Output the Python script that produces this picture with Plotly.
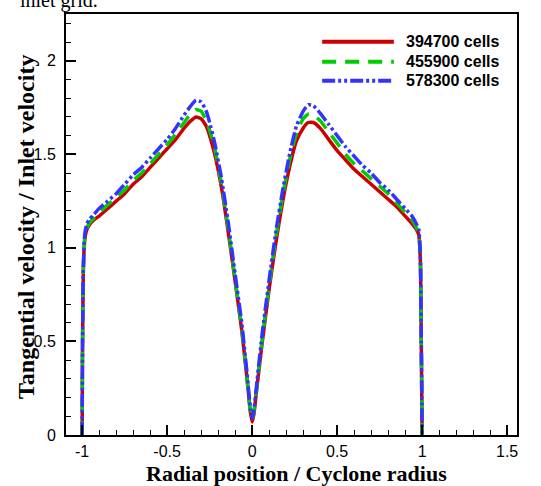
import plotly.graph_objects as go

# Digitised radial positions (shared by the three meshes)
x_pos = [-1.0, -0.998, -0.993, -0.985, -0.975, -0.96, -0.93, -0.9, -0.85, -0.8,
         -0.75, -0.7, -0.65, -0.6, -0.55, -0.5, -0.45, -0.4, -0.36, -0.33,
         -0.3, -0.27, -0.25, -0.22, -0.18, -0.14, -0.1, -0.06, -0.03, -0.01,
         0.0, 0.01, 0.03, 0.06, 0.1, 0.14, 0.18, 0.22, 0.26, 0.3,
         0.33, 0.36, 0.4, 0.45, 0.5, 0.55, 0.6, 0.65, 0.7, 0.75,
         0.8, 0.85, 0.9, 0.94, 0.965, 0.98, 0.99, 0.995, 1.0]

v_394700 = [0.0, 0.45, 0.88, 1.04, 1.09, 1.12, 1.15, 1.17, 1.21, 1.25,
            1.29, 1.34, 1.38, 1.43, 1.48, 1.53, 1.58, 1.64, 1.68, 1.70,
            1.69, 1.65, 1.60, 1.50, 1.32, 1.08, 0.82, 0.55, 0.30, 0.12,
            0.07, 0.11, 0.27, 0.50, 0.78, 1.03, 1.25, 1.43, 1.57, 1.64,
            1.67, 1.67, 1.64, 1.58, 1.52, 1.47, 1.42, 1.38, 1.34, 1.30,
            1.26, 1.22, 1.17, 1.13, 1.10, 1.07, 0.92, 0.5, 0.0]

v_455900 = [0.0, 0.45, 0.88, 1.05, 1.10, 1.13, 1.16, 1.19, 1.23, 1.27,
            1.31, 1.36, 1.40, 1.45, 1.50, 1.55, 1.61, 1.67, 1.72, 1.74,
            1.73, 1.68, 1.63, 1.53, 1.34, 1.10, 0.83, 0.56, 0.30, 0.12,
            0.08, 0.12, 0.28, 0.52, 0.80, 1.06, 1.28, 1.47, 1.61, 1.69,
            1.715, 1.71, 1.68, 1.62, 1.56, 1.50, 1.45, 1.41, 1.37, 1.33,
            1.29, 1.24, 1.19, 1.15, 1.11, 1.08, 0.92, 0.5, 0.0]

v_578300 = [0.0, 0.45, 0.9, 1.07, 1.12, 1.15, 1.18, 1.21, 1.25, 1.29,
            1.34, 1.39, 1.43, 1.48, 1.53, 1.58, 1.64, 1.71, 1.76, 1.79,
            1.78, 1.73, 1.67, 1.56, 1.37, 1.13, 0.86, 0.59, 0.33, 0.14,
            0.09, 0.13, 0.30, 0.55, 0.83, 1.09, 1.31, 1.50, 1.65, 1.73,
            1.765, 1.76, 1.72, 1.66, 1.60, 1.54, 1.49, 1.44, 1.40, 1.35,
            1.31, 1.26, 1.21, 1.17, 1.13, 1.10, 0.94, 0.5, 0.0]

series_names = ["394700 cells", "455900 cells", "578300 cells"]
series_values = [v_394700, v_455900, v_578300]
series_colors = ["#cc0000", "#00cc00", "#3333ff"]
series_dash = ["solid", "14px,9px", "13px,3px,3px,3px,3px,3px"]

x_ticks = [-1, -0.5, 0, 0.5, 1, 1.5]
x_ticklabels = ["-1", "-0.5", "0", "0.5", "1", "1.5"]
y_ticks = [0, 0.5, 1, 1.5, 2]
y_ticklabels = ["0", "0.5", "1", "1.5", "2"]

fig = go.Figure()
for name, vals, col, dash in zip(series_names, series_values, series_colors, series_dash):
    fig.add_trace(go.Scatter(x=x_pos, y=vals, mode="lines", name=name,
                             line=dict(color=col, width=3.5, dash=dash,
                                       shape="spline", smoothing=0.5),
                             showlegend=False))

# Manual legend (long line samples as in the reference)
leg_y = [0.934, 0.8865, 0.8416]
shapes = []
annotations = []
for name, col, dash, ly in zip(series_names, series_colors, series_dash, leg_y):
    shapes.append(dict(type="line", xref="paper", yref="paper",
                       x0=0.568, x1=0.727, y0=ly, y1=ly,
                       line=dict(color=col, width=4, dash=dash)))
    annotations.append(dict(xref="paper", yref="paper", x=0.749, y=ly,
                            xanchor="left", yanchor="middle", showarrow=False,
                            text=name,
                            font=dict(family="Liberation Sans, Arial", size=16,
                                      color="black", weight="bold")))

annotations.append(dict(xref="paper", yref="paper", x=0.51, y=-0.0922,
                        xanchor="center", yanchor="middle", showarrow=False,
                        text="Radial position / Cyclone radius",
                        font=dict(family="Liberation Serif, Times New Roman", size=22,
                                  color="black", weight="bold")))
annotations.append(dict(xref="paper", yref="paper", x=-0.0887, y=0.494,
                        xanchor="center", yanchor="middle", showarrow=False,
                        textangle=-90,
                        text="Tangential velocity / Inlet velocity",
                        font=dict(family="Liberation Serif, Times New Roman", size=24,
                                  color="black", weight="bold")))
annotations.append(dict(xref="paper", yref="paper", x=-0.107, y=0.999,
                        xanchor="left", yanchor="bottom", showarrow=False,
                        text="inlet grid.",
                        font=dict(family="Liberation Serif, Times New Roman", size=20,
                                  color="black")))

axis_common = dict(showline=True, linecolor="black", linewidth=2, mirror=True,
                   ticks="inside", ticklen=10, tickwidth=2, tickcolor="black",
                   showgrid=False, zeroline=False,
                   tickfont=dict(family="Liberation Sans, Arial", size=16, color="black"))

fig.update_layout(
    width=541, height=486,
    margin=dict(l=66, r=24, t=12, b=51),
    paper_bgcolor="white", plot_bgcolor="white",
    xaxis=dict(range=[-1.095, 1.558], tickmode="array", tickvals=x_ticks,
               ticktext=x_ticklabels, ticklabelstandoff=1,
               minor=dict(ticks="inside", ticklen=5, tickwidth=1, tickcolor="black",
                          dtick=0.1, tick0=0),
               **axis_common),
    yaxis=dict(range=[0, 2.25], tickmode="array", tickvals=y_ticks,
               ticktext=y_ticklabels, ticklabelstandoff=5,
               minor=dict(ticks="inside", ticklen=5, tickwidth=1, tickcolor="black",
                          dtick=0.1, tick0=0),
               **axis_common),
    shapes=shapes,
    annotations=annotations,
    showlegend=False,
)

fig.write_html("out.html", config={"displayModeBar": False},
               post_script="document.body.style.margin='0';document.body.style.padding='0';")
